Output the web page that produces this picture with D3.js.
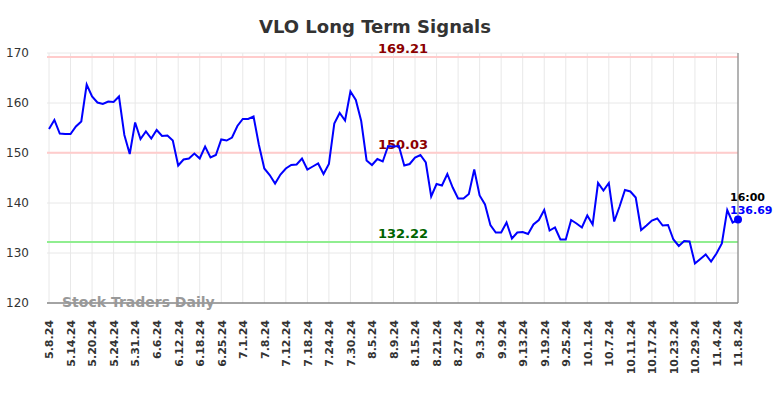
<!DOCTYPE html>
<html>
<head>
<meta charset="utf-8">
<script src="https://cdn.jsdelivr.net/npm/d3@7"></script>
<style>
  body { margin: 0; background: #fff; }
  svg { display: block; font-family: "DejaVu Sans", sans-serif; }
</style>
</head>
<body>
<div id="chart"></div>
<script>
const TITLE = "VLO Long Term Signals";

// trading days 5.8.24 .. 11.8.24 (weekdays minus market holidays)
const startDay = "2024-05-08";
const endDay = "2024-11-08";
const holidays = ["2024-05-27", "2024-06-19", "2024-07-04", "2024-09-02"];

const closes = [
  154.8, 156.6, 153.9, 153.8, 153.8, 155.3, 156.3, 163.7, 161.3, 160.1,
  159.8, 160.3, 160.2, 161.3, 153.6, 149.8, 156.1, 152.8, 154.3, 152.9,
  154.6, 153.4, 153.5, 152.5, 147.5, 148.7, 148.9, 149.9, 148.9, 151.3,
  149.1, 149.6, 152.7, 152.5, 153.1, 155.4, 156.8, 156.8, 157.3, 151.6,
  146.9, 145.6, 143.9, 145.7, 146.9, 147.6, 147.7, 148.9, 146.7, 147.3,
  147.9, 145.8, 147.8, 155.9, 158.0, 156.5, 162.3, 160.6, 156.4, 148.5,
  147.6, 148.8, 148.3, 151.4, 151.3, 151.4, 147.5, 147.8, 149.1, 149.6,
  148.1, 141.3, 143.8, 143.5, 145.8, 143.1, 140.9, 140.9, 141.8, 146.7,
  141.5, 139.7, 135.6, 134.1, 134.1, 136.1, 132.9, 134.1, 134.2, 133.8,
  135.7, 136.6, 138.6, 134.5, 135.1, 132.7, 132.7, 136.6, 135.9, 135.1,
  137.5, 135.7, 144.0, 142.5, 144.0, 136.3, 139.3, 142.6, 142.3, 141.1,
  134.6, 135.5, 136.5, 136.9, 135.5, 135.6, 132.7, 131.4, 132.4, 132.3,
  127.9, 128.8, 129.7, 128.3, 129.9, 131.9, 138.6, 136.1, 136.69
];

const levels = [
  { value: 169.21, line: "#ffcccc", text: "#8b0000" },
  { value: 150.03, line: "#ffcccc", text: "#8b0000" },
  { value: 132.22, line: "#90ee90", text: "#006400" }
];

const yTicks = [120, 130, 140, 150, 160, 170];
const lastLabel = "16:00";

const W = 784, H = 398;
const M = { top: 53, right: 46, bottom: 95, left: 49 };

const parse = d3.timeParse("%Y-%m-%d");
const fmtKey = d3.timeFormat("%Y-%m-%d");
const fmtLabel = d => `${d.getMonth() + 1}.${d.getDate()}.${String(d.getFullYear()).slice(2)}`;

const dates = d3.timeDay.range(parse(startDay), d3.timeDay.offset(parse(endDay), 1))
  .filter(d => d.getDay() !== 0 && d.getDay() !== 6 && !holidays.includes(fmtKey(d)))
  .map(fmtLabel);

const data = dates.map((d, i) => ({ date: d, value: closes[i] }));
const tickDates = dates.filter((d, i) => i % 4 === 0);

const svg = d3.select("#chart").append("svg")
  .attr("width", W)
  .attr("height", H);

const x = d3.scalePoint()
  .domain(dates)
  .range([M.left, W - M.right]);

const y = d3.scaleLinear()
  .domain([120, 170])
  .range([H - M.bottom, M.top]);

svg.append("text")
  .attr("x", 375)
  .attr("y", 33)
  .attr("text-anchor", "middle")
  .style("fill", "#333")
  .style("font-size", "18px")
  .style("font-weight", "bold")
  .text(TITLE);

// grid
svg.append("g")
  .selectAll("line")
  .data(yTicks)
  .join("line")
  .attr("x1", M.left - 2)
  .attr("x2", W - M.right)
  .attr("y1", d => y(d))
  .attr("y2", d => y(d))
  .attr("stroke", "#e8e8e8")
  .attr("stroke-width", 1);

svg.append("g")
  .selectAll("line")
  .data(tickDates)
  .join("line")
  .attr("x1", d => x(d))
  .attr("x2", d => x(d))
  .attr("y1", M.top)
  .attr("y2", H - M.bottom)
  .attr("stroke", "#e8e8e8")
  .attr("stroke-width", 1);

// y axis labels
svg.append("g")
  .attr("transform", `translate(${M.left - 17},0)`)
  .call(d3.axisLeft(y).tickValues(yTicks).tickSize(0))
  .call(ax => ax.select(".domain").remove())
  .selectAll("text")
  .style("fill", "#333")
  .style("font-size", "12px")
  .style("font-family", "DejaVu Sans, sans-serif");

// x axis labels
svg.append("g")
  .attr("transform", `translate(0,${H - M.bottom})`)
  .call(d3.axisBottom(x).tickValues(tickDates).tickSize(0))
  .call(ax => ax.select(".domain").remove())
  .selectAll("text")
  .attr("transform", "rotate(-90)")
  .attr("text-anchor", "end")
  .attr("x", -17)
  .attr("y", 0)
  .attr("dy", "0.35em")
  .style("fill", "#333")
  .style("font-size", "11px")
  .style("font-weight", "bold")
  .style("font-family", "DejaVu Sans, sans-serif");

// signal levels
svg.append("g")
  .selectAll("line")
  .data(levels)
  .join("line")
  .attr("x1", M.left - 2)
  .attr("x2", W - M.right)
  .attr("y1", d => y(d.value))
  .attr("y2", d => y(d.value))
  .attr("stroke", d => d.line)
  .attr("stroke-width", 2);

svg.append("g")
  .selectAll("text")
  .data(levels)
  .join("text")
  .attr("x", 403)
  .attr("y", d => y(d.value) - 4)
  .attr("text-anchor", "middle")
  .style("fill", d => d.text)
  .style("font-size", "13px")
  .style("font-weight", "bold")
  .text(d => d.value.toFixed(2));

// frame lines
svg.append("line")
  .attr("x1", M.left - 2).attr("x2", W - M.right)
  .attr("y1", H - M.bottom).attr("y2", H - M.bottom)
  .attr("stroke", "#555").attr("stroke-width", 1.2);

svg.append("line")
  .attr("x1", W - M.right).attr("x2", W - M.right)
  .attr("y1", M.top).attr("y2", H - M.bottom)
  .attr("stroke", "#888").attr("stroke-width", 1.2);

svg.append("text")
  .attr("x", 62)
  .attr("y", 307)
  .style("fill", "#999")
  .style("font-size", "14px")
  .style("font-weight", "bold")
  .text("Stock Traders Daily");

// price line
svg.append("path")
  .datum(data)
  .attr("fill", "none")
  .attr("stroke", "#0000ff")
  .attr("stroke-width", 2)
  .attr("d", d3.line().x(d => x(d.date)).y(d => y(d.value)));

const last = data[data.length - 1];
svg.append("circle")
  .attr("cx", x(last.date))
  .attr("cy", y(last.value))
  .attr("r", 4)
  .attr("fill", "#0000ff");

svg.append("text")
  .attr("x", x(last.date) - 8)
  .attr("y", y(last.value) - 19)
  .style("fill", "#000")
  .style("font-size", "11px")
  .style("font-weight", "bold")
  .text(lastLabel);

svg.append("text")
  .attr("x", x(last.date) - 8)
  .attr("y", y(last.value) - 6)
  .style("fill", "#0000ff")
  .style("font-size", "11px")
  .style("font-weight", "bold")
  .text(last.value.toFixed(2));
</script>
</body>
</html>
